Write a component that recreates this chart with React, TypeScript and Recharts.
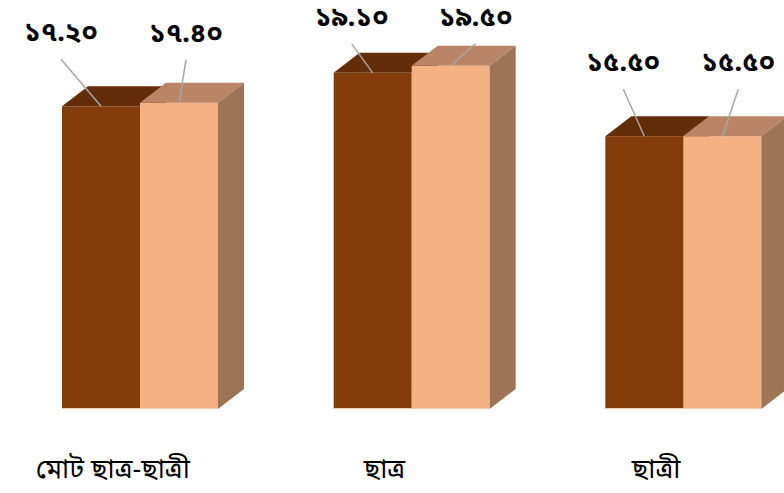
import { BarChart, Bar, XAxis, YAxis, LabelList } from 'recharts';

const categories = ['মোট ছাত্র-ছাত্রী', 'ছাত্র', 'ছাত্রী'];
const seriesA = [17.2, 19.1, 15.5];
const seriesB = [17.4, 19.5, 15.5];

// label placement relative to the top centre of each bar front (manual, as in the source)
const shiftA: [number, number][] = [[-40, -72], [-21, -54], [-21, -72]];
const shiftB: [number, number][] = [[7, -68], [25, -47], [16, -72]];

const data = categories.map((name, i) => ({ name, a: seriesA[i], b: seriesB[i] }));

const BN_DIGITS = '০১২৩৪৫৬৭৮৯';
const toBangla = (v: number) => v.toFixed(2).replace(/\d/g, (d) => BN_DIGITS[Number(d)]);

const FONT = "'Noto Sans Bengali', 'Noto Serif Bengali', 'Lohit Bengali', 'FreeSerif', 'Noto Sans', sans-serif";
const DEPTH_X = 26;
const DEPTH_Y = 20;

function makeBox(front: string, top: string, side: string) {
  return (props: any) => {
    const { x, y, width, height } = props;
    if (height <= 0) return <g />;
    const r = x + width;
    const b = y + height;
    return (
      <g>
        <rect x={x} y={y} width={width} height={height} fill={front} />
        <polygon
          points={`${x},${y} ${r},${y} ${r + DEPTH_X},${y - DEPTH_Y} ${x + DEPTH_X},${y - DEPTH_Y}`}
          fill={top}
        />
        <polygon
          points={`${r},${y} ${r + DEPTH_X},${y - DEPTH_Y} ${r + DEPTH_X},${b - DEPTH_Y} ${r},${b}`}
          fill={side}
        />
        <line x1={x} y1={b - 0.5} x2={r} y2={b - 0.5} stroke="#f8cbad" strokeWidth={1} />
      </g>
    );
  };
}

function makeLabel(shift: [number, number][]) {
  return (props: any) => {
    const { x, y, width, value, index } = props;
    const cx = Number(x) + Number(width) / 2;
    const [sx, sy] = shift[index] ?? [0, -60];
    const lx = cx + sx;
    const ly = Number(y) + sy;
    return (
      <g>
        <line x1={lx} y1={ly + 25} x2={cx} y2={Number(y)} stroke="#a6a6a6" strokeWidth={1.5} />
        <text
          x={lx}
          y={ly}
          textAnchor="middle"
          dominantBaseline="central"
          fontFamily={FONT}
          fontWeight="bold"
          fontSize={27}
          fill="#000"
        >
          {toBangla(Number(value))}
        </text>
      </g>
    );
  };
}

const CategoryTick = (props: any) => {
  const { x, y, payload } = props;
  return (
    <text
      x={x - 27}
      y={y + 54}
      textAnchor="middle"
      dominantBaseline="central"
      fontFamily={FONT}
      fontSize={27}
      fill="#000"
    >
      {payload.value}
    </text>
  );
};

export default function App() {
  return (
    <div
      style={{
        position: 'absolute',
        left: 0,
        top: 0,
        width: 784,
        height: 493,
        overflow: 'hidden',
        background: '#fff',
      }}
    >
      <BarChart
        width={820}
        height={493}
        data={data}
        margin={{ top: 57, right: 1, bottom: 0, left: 4 }}
        barGap={0}
      >
        <XAxis
          dataKey="name"
          axisLine={false}
          tickLine={false}
          height={84}
          tick={<CategoryTick />}
          interval={0}
        />
        <YAxis hide domain={[0, 20]} />
        <Bar dataKey="a" barSize={78} isAnimationActive={false} shape={makeBox('#843c0c', '#632d09', '#6e3410')}>
          <LabelList dataKey="a" content={makeLabel(shiftA)} />
        </Bar>
        <Bar dataKey="b" barSize={78} isAnimationActive={false} shape={makeBox('#f4b183', '#b98566', '#9e7456')}>
          <LabelList dataKey="b" content={makeLabel(shiftB)} />
        </Bar>
      </BarChart>
    </div>
  );
}
